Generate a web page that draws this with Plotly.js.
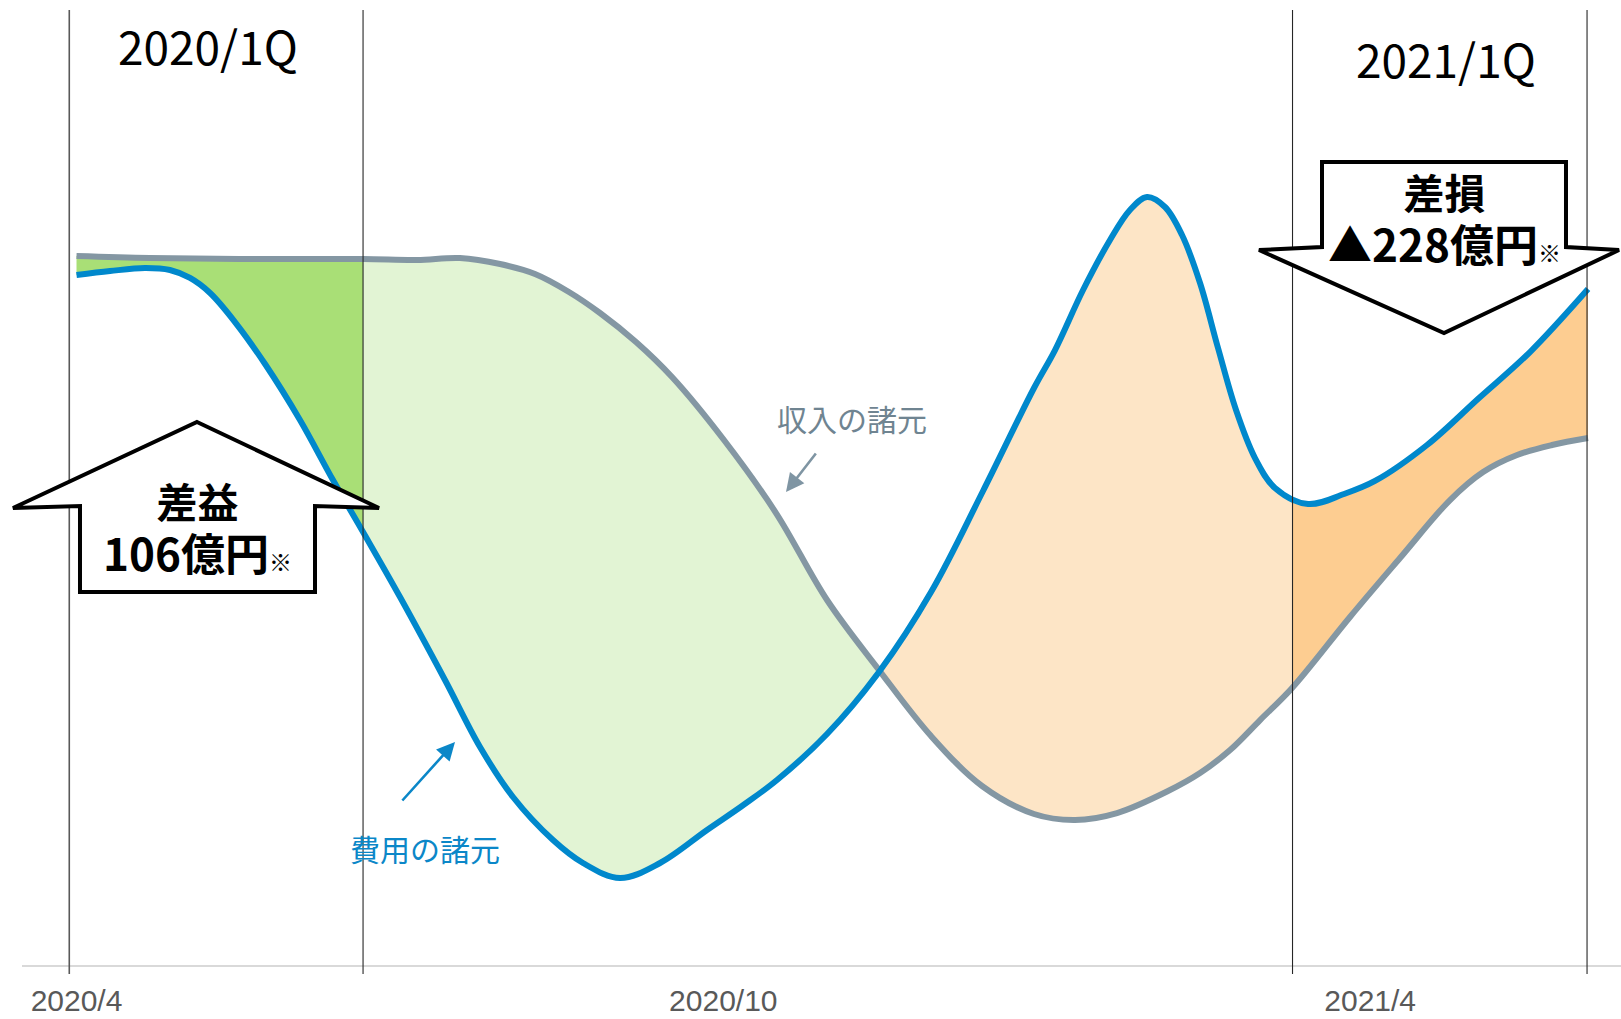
<!DOCTYPE html>
<html>
<head>
<meta charset="utf-8">
<script src="https://cdn.plot.ly/plotly-3.0.1.min.js"></script>
<style>html,body{margin:0;padding:0;background:#fff;}#chart{width:1621px;height:1019px;}</style>
</head>
<body>
<div id="chart"></div>
<script>
// ---- data (x: months since 2020/4, y: relative level) ----
const costMonths = [0.000,0.311,0.635,0.867,1.053,1.239,1.470,1.749,2.073,2.379,2.658,3.001,3.418,3.743,4.049,4.420,4.698,5.042,5.413,5.849,6.173,6.498,6.962,7.444,7.927,8.409,8.882,9.077,9.337,9.587,9.772,9.930,10.097,10.255,10.422,10.589,10.756,10.932,11.117,11.424,11.758,12.045,12.528,13.010,13.483,14.021];
const costValues = [100.10,100.68,101.12,100.83,99.67,97.49,93.28,87.19,79.07,70.36,62.82,53.39,41.35,31.63,24.37,18.13,14.80,12.62,14.80,19.59,23.07,26.84,33.51,42.51,54.11,68.77,83.71,89.22,97.93,105.18,109.53,111.42,109.97,105.90,98.94,89.51,80.52,73.55,69.20,66.88,68.33,70.22,75.44,82.26,88.93,98.07];
const revMonths = [0.000,0.682,1.609,2.658,3.159,3.557,3.929,4.253,4.568,4.856,5.190,5.524,6.006,6.489,6.962,7.444,7.927,8.400,8.882,9.263,9.652,10.125,10.422,10.701,10.979,11.276,11.813,12.277,12.741,13.048,13.363,13.687,14.021];
const revValues = [102.86,102.57,102.42,102.42,102.28,102.57,101.70,100.25,97.64,94.59,90.38,85.30,76.16,65.57,52.95,42.80,33.22,25.97,21.91,21.04,22.05,25.24,27.85,31.19,35.54,40.19,50.49,59.04,67.46,71.52,73.99,75.44,76.45];
const tickMonths = [0, 6, 12];
const tickLabels = ['2020/4', '2020/10', '2021/4'];
const quarterLines = [-0.067, 2.658, 11.28, 14.012];   // 2020/1Q and 2021/1Q boundaries
const crossMonth = 7.444;                              // where the two lines cross
const segmentFills = ['#a9df76', '#e2f4d4', '#fde5c6', '#fdcd91'];

// ---- geometry helpers ----
const W = 1621, H = 1019, ML = 22, MR = 0, MT = 0, MB = 54;
const PW = W - ML - MR, PH = H - MT - MB;
const xMin = -0.5056, xMax = 14.327;
const px = p => (p - ML) / PW;          // pixel x -> paper x
const py = p => (H - MB - p) / PH;      // pixel y -> paper y

const bounds = [xMin, quarterLines[1], crossMonth, quarterLines[2], xMax];
const COST = '#0088cc', REV = '#8497a3';

const traces = [{x: [0], y: [-50], mode: 'markers', marker: {opacity: 0}, hoverinfo: 'skip', showlegend: false, xaxis: 'x', yaxis: 'y'}];
const layout = {
  width: W, height: H,
  margin: {l: ML, r: MR, t: MT, b: MB, pad: 0},
  paper_bgcolor: '#ffffff', plot_bgcolor: 'rgba(0,0,0,0)',
  showlegend: false,
  xaxis: {
    domain: [0, 1], range: [xMin, xMax], showgrid: false, zeroline: false,
    showline: true, linecolor: '#d9d9d9', linewidth: 2,
    tickvals: tickMonths, ticktext: tickLabels, ticks: '',
    tickfont: {family: 'Liberation Sans, Arial, sans-serif', size: 30, color: '#595959'},
    ticklabelstandoff: 8, fixedrange: true
  },
  yaxis: {range: [0, 140], visible: false, showgrid: false, zeroline: false, fixedrange: true},
  shapes: [], annotations: []
};

for (let i = 0; i < 4; i++) {
  const name = 'x' + (i + 2);
  layout['xaxis' + (i + 2)] = {
    domain: [(bounds[i] - xMin) / (xMax - xMin), (bounds[i + 1] - xMin) / (xMax - xMin)],
    range: [bounds[i], bounds[i + 1]], visible: false, showgrid: false, zeroline: false,
    anchor: 'y', fixedrange: true
  };
  traces.push({
    x: revMonths, y: revValues, xaxis: name, yaxis: 'y', mode: 'lines', hoverinfo: 'skip',
    line: {color: REV, width: 6, shape: 'spline', smoothing: 1, simplify: false}
  });
  traces.push({
    x: costMonths, y: costValues, xaxis: name, yaxis: 'y', mode: 'lines', hoverinfo: 'skip',
    fill: 'tonexty', fillcolor: segmentFills[i],
    line: {color: COST, width: 6, shape: 'spline', smoothing: 1, simplify: false}
  });
}

// quarter boundary lines (extend below axis as tick marks)
quarterLines.forEach((m, i) => {
  layout.shapes.push({
    type: 'line', xref: 'x', yref: 'paper', x0: m, x1: m, y0: py(10), y1: py(974),
    line: {color: i === 0 ? '#595959' : '#262626', width: i === 0 ? 1.6 : 1.1}, layer: 'above'
  });
});

// block arrows
function poly(pts) {
  return 'M ' + pts.map(p => px(p[0]).toFixed(5) + ',' + py(p[1]).toFixed(5)).join(' L ') + ' Z';
}
const upArrow = [[197,422],[379,508],[315,506],[315,592],[80,592],[80,506],[13,508]];
const downArrow = [[1322,162],[1566,162],[1566,247],[1619,250],[1444,333],[1259,250],[1322,247]];
[upArrow, downArrow].forEach(a => layout.shapes.push({
  type: 'path', xref: 'paper', yref: 'paper', path: poly(a),
  line: {color: '#000000', width: 4}, fillcolor: '#ffffff', layer: 'above'
}));

const JP = 'Noto Sans CJK JP, sans-serif';
function note(text, x, y, size, color, bold) {
  layout.annotations.push({
    text: text, xref: 'paper', yref: 'paper', x: px(x), y: py(y), xanchor: 'center', yanchor: 'middle',
    align: 'center', showarrow: false, font: {family: JP, size: size, color: color, weight: bold ? 700 : 400}
  });
}
note('2020/1Q', 208, 45, 46, '#000000', false);
note('2021/1Q', 1446, 58, 46, '#000000', false);
note('収入の諸元', 852, 418, 30, '#6f8491', false);
note('費用の諸元', 425, 848, 30, '#0b87c8', false);
note('差益<br><span style="font-size:44px">106億円</span><span style="font-size:23px">※</span>', 197, 527, 41, '#000000', true);
note('差損<br><span style="font-size:44px">▲228億円</span><span style="font-size:23px">※</span>', 1444, 218, 41, '#000000', true);

function pointer(tail, head, color) {
  layout.annotations.push({
    text: '', xref: 'paper', yref: 'paper', x: px(head[0]), y: py(head[1]),
    ax: tail[0] - head[0], ay: tail[1] - head[1], showarrow: true,
    arrowhead: 2, arrowsize: 1.4, arrowwidth: 2.6, arrowcolor: color, standoff: 0, startstandoff: 0
  });
}
pointer([817, 452], [786, 492], '#7f95a3');
pointer([401, 802], [455, 742], '#0b87c8');

Plotly.newPlot('chart', traces, layout, {staticPlot: true, displayModeBar: false});
</script>
</body>
</html>
